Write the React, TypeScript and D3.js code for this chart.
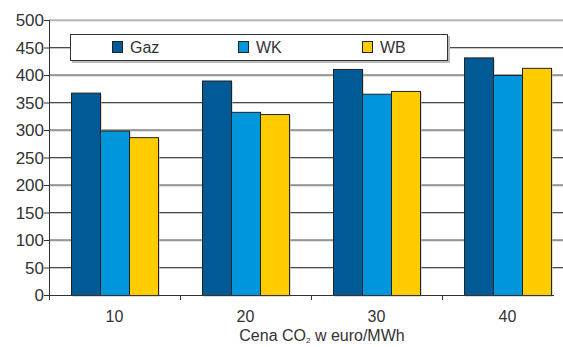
import React from "react";
import * as d3 from "d3";

const categories = ["10", "20", "30", "40"];
const seriesNames = ["Gaz", "WK", "WB"];
const gaz = [368, 390, 411, 432];
const wk = [299, 333, 366, 400];
const wb = [287, 329, 371, 413];
const yTicks = [0, 50, 100, 150, 200, 250, 300, 350, 400, 450, 500];
const colors = ["#005A96", "#0096DC", "#FFCC00"];

const W = 563, H = 347;
const left = 49, top = 20, bottom = 295;
const catW = 131;

export default function App() {
  const series = [gaz, wk, wb];
  const y = d3.scaleLinear().domain([0, 500]).range([bottom, top]);
  const x = d3.scaleBand().domain(categories).range([left, left + catW * categories.length]).paddingInner(0).paddingOuter(0);
  const inner = d3.scaleBand().domain(seriesNames).range([0, catW]).paddingInner(0).paddingOuter(0.76);
  const font = "'Liberation Sans', Arial, sans-serif";
  return (
    <svg width={W} height={H} style={{ position: "absolute", left: 0, top: 0 }} xmlns="http://www.w3.org/2000/svg">
      <rect width={W} height={H} fill="#fff" />
      {yTicks.filter(t => t > 0).map(t => (
        <g key={t}>
          <line x1={left} x2={W} y1={y(t) + 1} y2={y(t) + 1} stroke="#c8c8c8" strokeWidth={1} />
          <line x1={left} x2={W} y1={y(t)} y2={y(t)} stroke={t === 500 ? "#8a8a8a" : "#4a4a4a"} strokeWidth={1} />
        </g>
      ))}
      {/* legend */}
      <rect x={72} y={36} width={378} height={27} fill="#bbb" />
      <rect x={70.5} y={34.5} width={377} height={26} fill="#fff" stroke="#333" strokeWidth={1} />
      {seriesNames.map((s, i) => {
        const lx = [112, 238, 362][i];
        return (
          <g key={s}>
            <rect x={lx + 0.5} y={41.5} width={10} height={11} fill={colors[i]} stroke="#222" strokeWidth={1} />
            <text x={lx + 18} y={53} fontFamily={font} fontSize={16} fill="#333">{s}</text>
          </g>
        );
      })}
      {/* bars */}
      {categories.map((c, ci) => (
        <g key={c}>
          {series.map((vals, si) => {
            const bx = (x(c) as number) + (inner(seriesNames[si]) as number);
            const bw = inner.bandwidth();
            return (
              <g key={si}>
                <rect x={Math.round(bx) + 1.5} y={y(vals[ci]) + 1.5} width={Math.round(bw)} height={bottom - y(vals[ci])} fill="#bbb" />
                <rect x={Math.round(bx) + 0.5} y={y(vals[ci]) + 0.5} width={Math.round(bw)} height={bottom - y(vals[ci])} fill={colors[si]} stroke="#222" strokeWidth={1} />
              </g>
            );
          })}
        </g>
      ))}
      {/* axes */}
      <line x1={left + 0.5} x2={left + 0.5} y1={top} y2={bottom + 5} stroke="#333" strokeWidth={1} />
      <line x1={left} x2={554} y1={bottom + 0.5} y2={bottom + 0.5} stroke="#333" strokeWidth={1} />
      {yTicks.map(t => (
        <g key={t}>
          <line x1={left - 5} x2={left} y1={y(t) + 0.5} y2={y(t) + 0.5} stroke="#333" strokeWidth={1} />
          <text x={left - 5} y={y(t) + 6} textAnchor="end" fontFamily={font} fontSize={17} fill="#333">{t}</text>
        </g>
      ))}
      {categories.slice(1).map(c => (
        <line key={c} x1={(x(c) as number) + 0.5} x2={(x(c) as number) + 0.5} y1={bottom} y2={bottom + 5} stroke="#333" strokeWidth={1} />
      ))}
      {categories.map(c => (
        <text key={c} x={(x(c) as number) + catW / 2} y={322} textAnchor="middle" fontFamily={font} fontSize={16} fill="#333">{c}</text>
      ))}
      <text x={322} y={341} textAnchor="middle" fontFamily={font} fontSize={16} fill="#333">
        Cena CO<tspan fontSize={8} dy={2}>2</tspan><tspan dy={-2}> w euro/MWh</tspan>
      </text>
    </svg>
  );
}
